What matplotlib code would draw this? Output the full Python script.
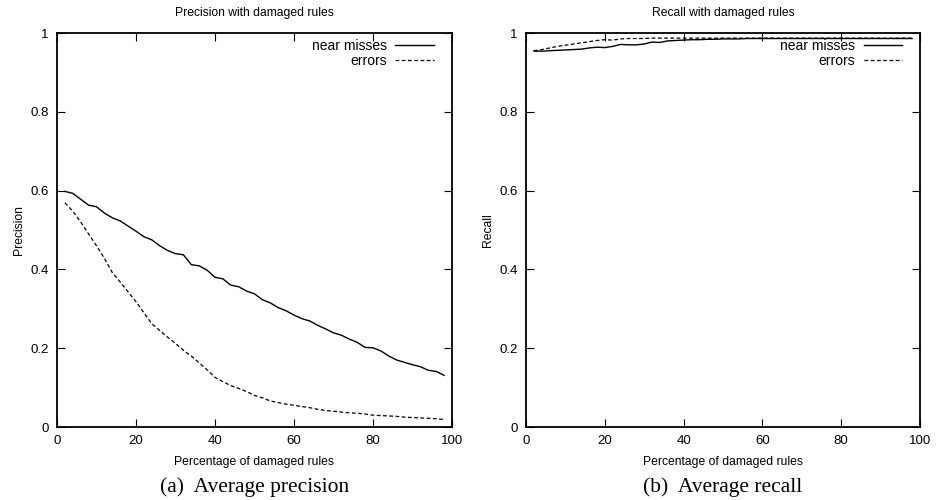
import matplotlib
matplotlib.use("Agg")
import matplotlib.pyplot as plt
from matplotlib.ticker import FuncFormatter

plt.rcParams['font.family'] = ['Liberation Sans', 'DejaVu Sans']

pct = list(range(2, 100, 2))

precision_near = [0.598, 0.593, 0.578, 0.563, 0.559, 0.543, 0.531, 0.523, 0.510, 0.497,
                  0.483, 0.475, 0.460, 0.448, 0.440, 0.437, 0.412, 0.409, 0.398, 0.380,
                  0.376, 0.360, 0.356, 0.345, 0.338, 0.323, 0.315, 0.303, 0.295, 0.284,
                  0.275, 0.269, 0.258, 0.249, 0.239, 0.233, 0.223, 0.215, 0.202, 0.201,
                  0.193, 0.180, 0.170, 0.164, 0.158, 0.153, 0.144, 0.141, 0.131]
precision_err = [0.569, 0.548, 0.520, 0.490, 0.460, 0.428, 0.392, 0.368, 0.343, 0.318,
                 0.290, 0.262, 0.245, 0.228, 0.212, 0.195, 0.180, 0.163, 0.145, 0.126,
                 0.115, 0.105, 0.098, 0.090, 0.080, 0.074, 0.066, 0.062, 0.058, 0.055,
                 0.052, 0.049, 0.045, 0.042, 0.040, 0.038, 0.036, 0.035, 0.033, 0.030,
                 0.029, 0.028, 0.027, 0.025, 0.024, 0.023, 0.022, 0.021, 0.019]
recall_near = [0.954, 0.954, 0.955, 0.956, 0.957, 0.958, 0.959, 0.962, 0.964, 0.963,
               0.966, 0.971, 0.970, 0.970, 0.972, 0.977, 0.976, 0.980, 0.981, 0.982,
               0.983, 0.983, 0.984, 0.984, 0.985, 0.985, 0.985, 0.986, 0.986, 0.986,
               0.986, 0.986, 0.986, 0.986, 0.986, 0.986, 0.986, 0.986, 0.986, 0.986,
               0.986, 0.986, 0.986, 0.986, 0.986, 0.986, 0.986, 0.986, 0.986]
recall_err = [0.955, 0.958, 0.962, 0.966, 0.969, 0.972, 0.975, 0.978, 0.981, 0.983,
              0.982, 0.985, 0.986, 0.986, 0.986, 0.987, 0.987, 0.987, 0.987, 0.987,
              0.987, 0.987, 0.987, 0.987, 0.987, 0.987, 0.987, 0.987, 0.987, 0.987,
              0.987, 0.987, 0.987, 0.987, 0.987, 0.987, 0.987, 0.987, 0.987, 0.987,
              0.987, 0.987, 0.987, 0.987, 0.987, 0.987, 0.987, 0.987, 0.987]

series_labels = ["near misses", "errors"]
x_ticks = [0, 20, 40, 60, 80, 100]
y_ticks = [0, 0.2, 0.4, 0.6, 0.8, 1]
titles = ["Precision with damaged rules", "Recall with damaged rules"]
ylabels = ["Precision", "Recall"]
xlabel = "Percentage of damaged rules"
captions = ["(a)  Average precision", "(b)  Average recall"]

fig = plt.figure(figsize=(9.36, 5.0), dpi=100)
W, H = 936, 500
rects = [(57, 33, 395, 394), (526, 33, 394, 394)]
data = [(precision_near, precision_err), (recall_near, recall_err)]

def fmt(v, pos):
    if abs(v - round(v)) < 1e-9:
        return "%d" % round(v)
    return "%g" % v

for i, (l, t, w, h) in enumerate(rects):
    ax = fig.add_axes([l / W, (H - t - h) / H, w / W, h / H])
    near, err = data[i]
    ax.plot(pct, near, color='black', lw=1.0, label=series_labels[0])
    ax.plot(pct, err, color='black', lw=0.9, linestyle=(0, (3, 2)), label=series_labels[1])
    ax.set_xlim(0, 100)
    ax.set_ylim(0, 1)
    ax.set_xticks(x_ticks)
    ax.set_yticks(y_ticks)
    ax.xaxis.set_major_formatter(FuncFormatter(fmt))
    ax.yaxis.set_major_formatter(FuncFormatter(fmt))
    ax.tick_params(direction='in', length=6, width=0.8, top=True, right=True,
                   labelsize=9.5, pad=6, colors='black')
    for s in ax.spines.values():
        s.set_linewidth(1.3)
    ax.set_title(titles[i], fontsize=8.7, pad=12.5)
    ax.set_xlabel(xlabel, fontsize=8.7, labelpad=6)
    ax.set_ylabel(ylabels[i], fontsize=8.7, labelpad=4)
    leg = ax.legend(loc='upper right', frameon=False, markerfirst=False, fontsize=10,
                    handlelength=2.8, handletextpad=0.6, labelspacing=0.1,
                    borderaxespad=0.3, bbox_to_anchor=(0.98, 1.01))
    for txt in leg.get_texts():
        txt.set_ha('right')
    leg._legend_box.align = "right"
    fig.text((l + w / 2) / W, 1 - 487 / H, captions[i], ha='center', va='center',
             fontsize=15.5, family=['Liberation Serif', 'DejaVu Serif'])

fig.savefig("out.png", dpi=100)
